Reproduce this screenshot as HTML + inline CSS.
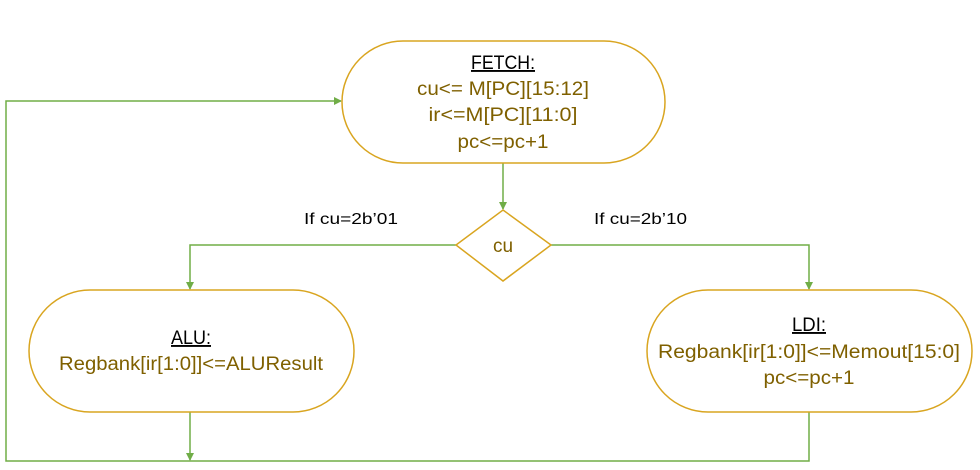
<!DOCTYPE html>
<html><head><meta charset="utf-8"><style>body{margin:0;background:#fff}svg{display:block}</style></head>
<body>
<svg width="980" height="470" viewBox="0 0 980 470" xmlns="http://www.w3.org/2000/svg" font-family="Liberation Sans, sans-serif">
<defs><marker id="a" markerWidth="8" markerHeight="8" refX="7" refY="4" orient="auto" markerUnits="userSpaceOnUse"><path d="M0,0 L8,4 L0,8 z" fill="#70ad47"/></marker></defs>
<g fill="none" stroke="#70ad47" stroke-width="1.5">
<line x1="503" y1="163" x2="503" y2="209" marker-end="url(#a)"/>
<polyline points="456,245 190,245 190,289" marker-end="url(#a)"/>
<polyline points="551,245 809,245 809,289" marker-end="url(#a)"/>
<line x1="190" y1="412" x2="190" y2="460" marker-end="url(#a)"/>
<polyline points="809,412 809,461 6,461 6,101 341,101" marker-end="url(#a)"/>
</g>
<g fill="#fff" stroke="#d9a520" stroke-width="1.5">
<rect x="342" y="41" width="323" height="122" rx="61"/>
<rect x="29" y="290" width="325" height="122" rx="61"/>
<rect x="647" y="290" width="325" height="122" rx="61"/>
<polygon points="503,210 551,245 503,281 456,245"/>
</g>
<g font-size="19" text-anchor="middle" fill="#7f6000">
<text x="503" y="69" fill="#000" text-decoration="underline" font-size="19" textLength="64" lengthAdjust="spacingAndGlyphs">FETCH:</text>
<text x="503" y="95" textLength="172" lengthAdjust="spacingAndGlyphs">cu&lt;= M[PC][15:12]</text>
<text x="503" y="121" textLength="149" lengthAdjust="spacingAndGlyphs">ir&lt;=M[PC][11:0]</text>
<text x="503" y="148" textLength="91" lengthAdjust="spacingAndGlyphs">pc&lt;=pc+1</text>
<text x="503" y="252">cu</text>
<text x="191" y="344" fill="#000" text-decoration="underline" font-size="19" textLength="40" lengthAdjust="spacingAndGlyphs">ALU:</text>
<text x="191" y="370" textLength="264" lengthAdjust="spacingAndGlyphs">Regbank[ir[1:0]]&lt;=ALUResult</text>
<text x="809" y="331" fill="#000" text-decoration="underline" font-size="19" textLength="34" lengthAdjust="spacingAndGlyphs">LDI:</text>
<text x="809" y="358" textLength="302" lengthAdjust="spacingAndGlyphs">Regbank[ir[1:0]]&lt;=Memout[15:0]</text>
<text x="809" y="384" textLength="91" lengthAdjust="spacingAndGlyphs">pc&lt;=pc+1</text>
</g>
<g font-size="16" fill="#000">
<text x="304" y="224" textLength="94" lengthAdjust="spacingAndGlyphs">If cu=2b’01</text>
<text x="594" y="224" textLength="93" lengthAdjust="spacingAndGlyphs">If cu=2b’10</text>
</g>
</svg>
</body></html>
